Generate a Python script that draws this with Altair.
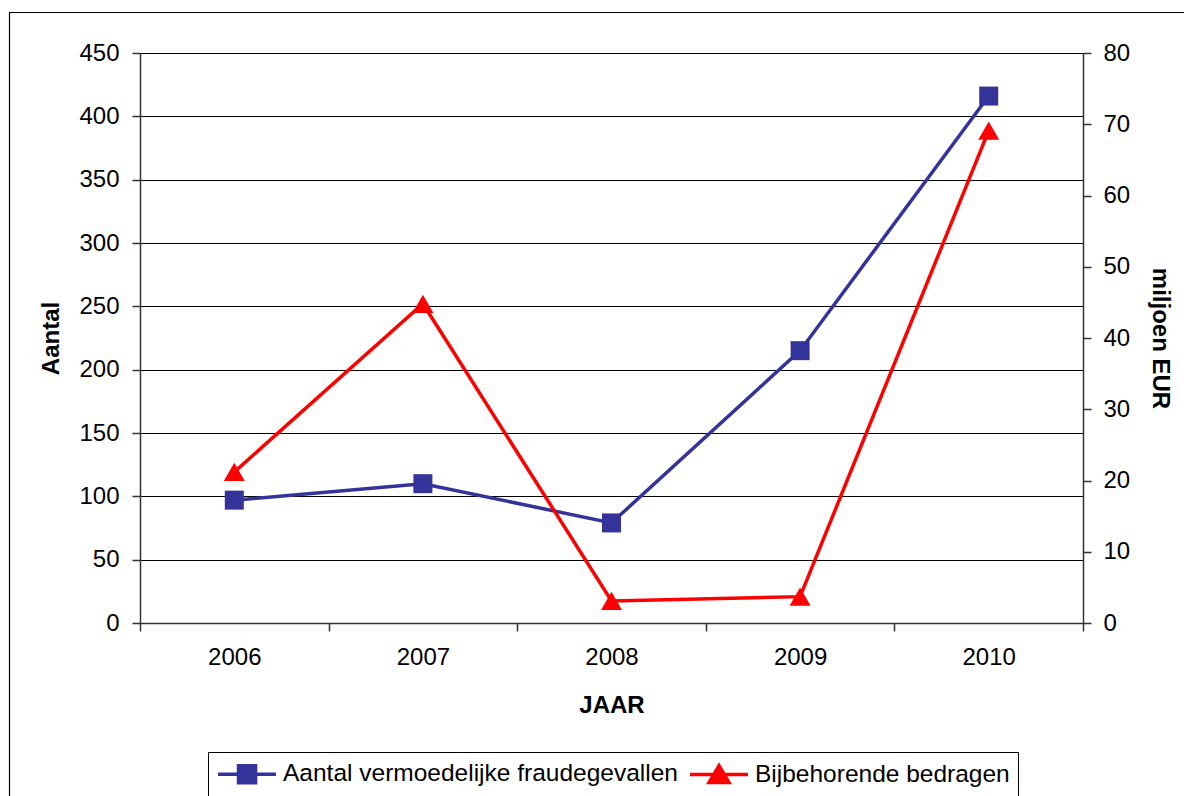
import altair as alt
import pandas as pd

# Jaarlijkse fraudecijfers
jaren = ["2006", "2007", "2008", "2009", "2010"]
aantal_gevallen = [97, 110, 79, 215, 416]          # linkeras: aantal
bedragen_mln = [21.2, 44.8, 3.1, 3.7, 69.1]        # rechteras: miljoen EUR

reeks_aantal = "Aantal vermoedelijke fraudegevallen"
reeks_bedrag = "Bijbehorende bedragen"

BLAUW = "#333399"
ROOD = "#FF0000"
FONT = "Liberation Sans"
LIJNDIKTE = 3.5

df = pd.DataFrame({"jaar": jaren, "aantal": aantal_gevallen, "bedrag": bedragen_mln})

x_enc = alt.X(
    "jaar:O",
    scale=alt.Scale(type="band", paddingInner=0, paddingOuter=0),
    axis=alt.Axis(
        title="JAAR", labelAngle=0, tickBand="extent", grid=False,
        tickSize=8, labelPadding=14, titlePadding=24,
        domainColor="#333333", tickColor="#333333",
    ),
)

base = alt.Chart(df)

# Linkeras: aantal gevallen
y_links = alt.Y(
    "aantal:Q",
    scale=alt.Scale(domain=[0, 450], nice=False),
    axis=alt.Axis(
        title="Aantal", values=list(range(0, 451, 50)), grid=True,
        gridColor="#000000", gridWidth=1, tickSize=8, labelPadding=13,
        titlePadding=15, domainColor="#333333", tickColor="#333333",
    ),
)
lijn_aantal = base.mark_line(color=BLAUW, strokeWidth=LIJNDIKTE).encode(x=x_enc, y=y_links)
punt_aantal = base.mark_point(
    shape="square", filled=True, size=361, color=BLAUW, opacity=1
).encode(x=x_enc, y=y_links)
links = alt.layer(lijn_aantal, punt_aantal)

# Rechteras: bedragen in miljoen EUR
y_rechts = alt.Y(
    "bedrag:Q",
    scale=alt.Scale(domain=[0, 80], nice=False),
    axis=alt.Axis(
        title="miljoen EUR", orient="right", values=list(range(0, 81, 10)),
        grid=False, tickSize=8, labelPadding=12, titlePadding=18,
        domainColor="#333333", tickColor="#333333",
    ),
)
lijn_bedrag = base.mark_line(color=ROOD, strokeWidth=LIJNDIKTE).encode(x=x_enc, y=y_rechts)
punt_bedrag = base.mark_point(
    shape="triangle-up", filled=True, size=441, color=ROOD, opacity=1
).encode(x=x_enc, y=y_rechts)
rechts = alt.layer(lijn_bedrag, punt_bedrag)

# Legendasymbolen: lijnstuk met marker (eenheden van halve symboolgrootte)
pad_vierkant = "M-1,0L3.83,0M0.71,-0.71L2.13,-0.71L2.13,0.71L0.71,0.71Z"
pad_driehoek = "M-1,0L3.83,0M1.42,-0.75L2.25,0.65L0.59,0.65Z"
reeksen = [reeks_aantal, reeks_bedrag]

df_legenda = pd.DataFrame({"reeks": reeksen})
legenda = (
    alt.Chart(df_legenda)
    .transform_filter("datum.reeks == 'geen'")
    .mark_point(filled=True, strokeWidth=LIJNDIKTE, opacity=1)
    .encode(
        fill=alt.Fill("reeks:N", scale=alt.Scale(domain=reeksen, range=[BLAUW, ROOD]), legend=None),
        stroke=alt.Stroke("reeks:N", scale=alt.Scale(domain=reeksen, range=[BLAUW, ROOD]), legend=None),
        shape=alt.Shape(
            "reeks:N",
            scale=alt.Scale(domain=reeksen, range=[pad_vierkant, pad_driehoek]),
            legend=alt.Legend(
                title=None, orient="none", direction="horizontal",
                legendX=68, legendY=699, symbolSize=576, symbolStrokeWidth=LIJNDIKTE,
                labelFontSize=24.5, labelFont=FONT, labelColor="#000000",
                labelLimit=600, columnPadding=5, labelOffset=39,
                strokeColor="#000000", padding=8,
            ),
        ),
    )
)

# Kader rond de hele figuur
kader = alt.Chart(pd.DataFrame({"k": [0]})).mark_rect(
    fill=None, stroke="#000000", strokeWidth=1.2
).encode(
    x=alt.value(-130.5), x2=alt.value(1200), y=alt.value(-40.5), y2=alt.value(800)
)

chart = (
    alt.layer(links, rechts, legenda, kader)
    .resolve_scale(y="independent", fill="independent", stroke="independent", shape="independent")
    .properties(
        width=943, height=570, background="white",
        padding={"left": 140, "top": 53, "right": 101, "bottom": 173},
        autosize=alt.AutoSizeParams(type="none"),
    )
    .configure_view(stroke=None)
    .configure_axis(
        labelFont=FONT, labelFontSize=24, labelColor="#000000",
        titleFont=FONT, titleFontSize=24, titleFontWeight="bold", titleColor="#000000",
        domainWidth=1.5, tickWidth=1.5,
    )
)

chart.save("out.html", embed_options={"renderer": "svg", "actions": False})
